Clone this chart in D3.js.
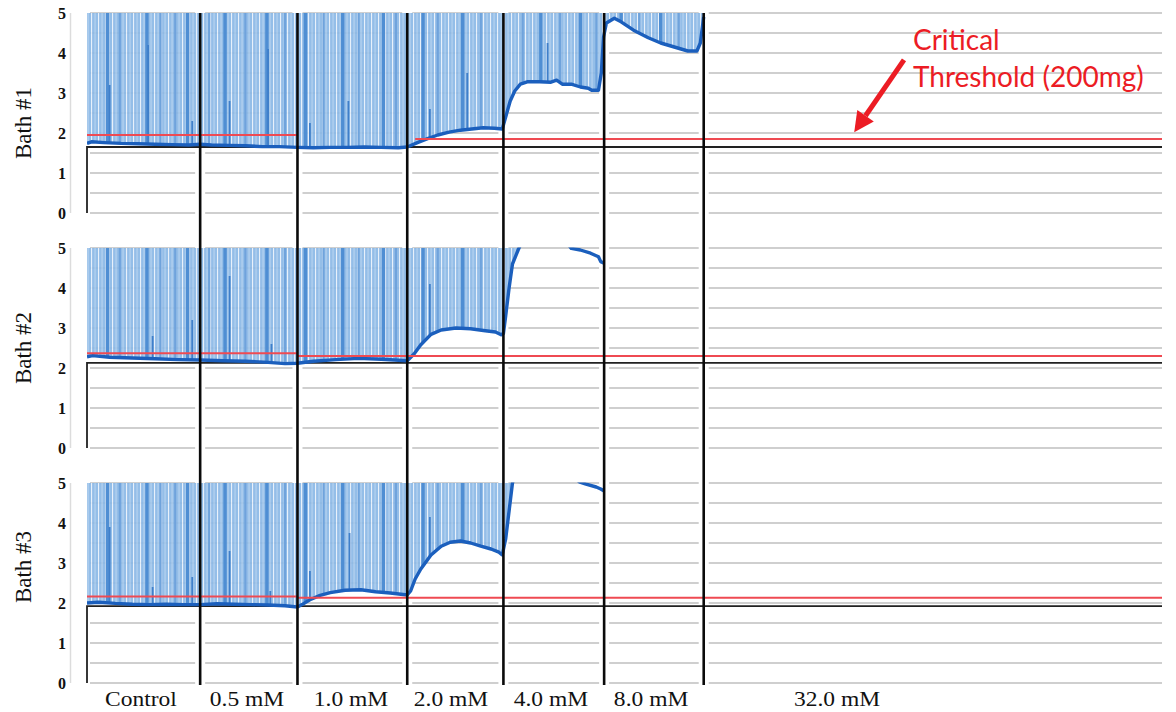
<!DOCTYPE html>
<html>
<head>
<meta charset="utf-8">
<script src="https://cdn.jsdelivr.net/npm/d3@7"></script>
<style>
  html, body { margin: 0; padding: 0; background: #fff; }
  svg { display: block; }
</style>
</head>
<body>
<svg id="chart" width="1176" height="712"></svg>
<script>
// Time axis in minutes; dose steps start at these times
const sectionStarts = [0, 10.0, 18.6, 28.3, 36.8, 45.7, 54.5, 95];
const doseLabels = ["Control", "0.5 mM", "1.0 mM", "2.0 mM", "4.0 mM", "8.0 mM", "32.0 mM"];
const doseLabelTimes = [4.77, 14.14, 23.33, 32.17, 41.0, 49.85, 66.28];

const bathNames = ["Bath #1", "Bath #2", "Bath #3"];
const bathNameValues = [2.25, 2.5, 2.9];
const yTicks = [0, 1, 2, 3, 4, 5];
const gridValues = [0, 0.5, 1, 1.5, 2, 2.5, 3, 3.5, 4, 4.5, 5];

// Resting tension trace [time, tension]
const bath1Trace = [[0.0,1.74],[0.4,1.78],[1.5,1.76],[3,1.74],[4.5,1.73],[6,1.72],[7.5,1.71],[9,1.70],[10,1.72],[11,1.70],[12.5,1.69],[14,1.68],[15.5,1.66],[17,1.66],[18.6,1.64],[20,1.63],[21.5,1.64],[23,1.64],[24.5,1.65],[26,1.64],[27.5,1.63],[28.3,1.65],[29.2,1.76],[30.1,1.86],[31.0,1.95],[32.0,2.02],[33.0,2.07],[34.0,2.10],[35.0,2.13],[36.0,2.12],[36.7,2.10],[37.0,2.40],[37.4,2.80],[37.8,3.05],[38.3,3.22],[38.9,3.28],[40.0,3.28],[41.0,3.27],[41.5,3.32],[42.0,3.22],[42.8,3.22],[43.6,3.15],[44.3,3.12],[44.6,3.07],[45.2,3.07],[45.45,3.5],[45.65,4.4],[45.9,4.75],[46.6,4.87],[47.2,4.78],[48.3,4.57],[49.6,4.38],[50.7,4.25],[51.9,4.15],[53.1,4.05],[53.9,4.05],[54.2,4.25],[54.5,4.9]];
const bath2Trace = [[0,2.28],[0.5,2.31],[2,2.27],[4,2.25],[6,2.23],[8,2.21],[10,2.20],[12,2.18],[14,2.17],[16,2.14],[17.5,2.11],[18.6,2.12],[20,2.17],[22,2.21],[24,2.24],[26,2.22],[28.3,2.18],[28.9,2.35],[29.5,2.58],[30.4,2.84],[31.3,2.95],[32.6,3.00],[33.9,2.98],[35.2,2.93],[36.1,2.90],[36.6,2.83],[36.8,2.86],[37.0,3.3],[37.3,4.0],[37.6,4.6],[38.1,4.95],[38.5,5.2],[39.5,5.5],[41,5.5],[42.2,5.2],[42.8,4.99],[43.6,4.95],[44.5,4.87],[45.2,4.78],[45.4,4.66],[45.7,4.62]];
const bath3Trace = [[0,2.0],[1,2.02],[2.5,1.99],[4,1.97],[5.5,1.96],[7,1.97],[8.5,1.96],[10,1.96],[11.5,1.98],[13,1.97],[14.5,1.96],[16,1.95],[17.5,1.93],[18.6,1.90],[19.0,1.96],[19.7,2.08],[20.6,2.19],[21.5,2.26],[22.8,2.32],[24.2,2.33],[25.5,2.28],[26.8,2.25],[28.3,2.20],[28.6,2.3],[29.0,2.6],[29.5,2.85],[30.4,3.2],[31.3,3.42],[32.1,3.52],[33.0,3.55],[33.9,3.50],[34.8,3.42],[35.7,3.35],[36.4,3.27],[36.7,3.20],[37.0,3.6],[37.3,4.3],[37.6,5.0],[37.9,5.3],[39,5.5],[42,5.5],[43.2,5.1],[43.5,5.03],[44.1,4.97],[45.0,4.90],[45.4,4.85],[45.7,4.80]];

// Twitch responses run off scale (> 5) until these times
const twitchEnds = [54.5, 38.3, 37.7];

// Stronger twitch bands, intermediate bands and sub-maximal twitches [time, peak]
const darkTwitchTimes = [1.8, 5.3, 8.9, 12.2, 15.9, 19.3, 22.6, 26.2, 29.7, 33.2, 40.1, 43.6, 47.2, 50.7];
const midTwitchTimes = [2.9, 6.5, 7.8, 10.8, 14.0, 17.5, 20.9, 24.0, 27.3, 31.0, 34.8, 38.5, 41.8, 45.0, 48.8, 52.3];
const bath1Partial = [[2.0,3.2],[5.4,4.2],[9.3,2.3],[12.6,2.8],[16.0,4.1],[19.7,2.25],[23.1,2.8],[30.3,2.6],[33.6,3.5],[40.7,4.25]];
const bath2Partial = [[5.8,2.8],[9.3,3.2],[12.6,4.3],[16.3,2.6],[30.3,4.1]];
const bath3Partial = [[2.0,3.9],[5.8,2.4],[9.3,2.65],[12.6,3.3],[16.2,2.3],[19.7,2.8],[23.2,3.75],[30.3,4.15]];

// Critical threshold (200 mg) segments [from, to, value] and zero baselines
const bath1Threshold = [[0, 18.6, 1.95], [29.0, 95, 1.85]];
const bath2Threshold = [[0, 18.6, 2.37], [18.6, 95, 2.30]];
const bath3Threshold = [[0, 18.6, 2.16], [18.6, 95, 2.13]];
const baselines = [1.65, 2.13, 1.92];

// Annotation arrow: tail and tip in Bath #1 units
const arrowTail = [72.2, 3.83];
const arrowTip = [67.8, 2.02];
const annotationLines = ["Critical", "Threshold (200mg)"];
const annotationAnchor = [73.0, 4.08, 3.15];

const traces = [bath1Trace, bath2Trace, bath3Trace];
const partials = [bath1Partial, bath2Partial, bath3Partial];
const thresholds = [bath1Threshold, bath2Threshold, bath3Threshold];

const panelTops = [13, 248, 483];
const panelH = 200;

const svg = d3.select("#chart");
svg.append("rect").attr("width", 1176).attr("height", 712).attr("fill", "#fff");

const x = d3.scaleLinear().domain([0, 95]).range([87, 1162]);

const defs = svg.append("defs");
const pat = defs.append("pattern").attr("id", "twitchFill")
  .attr("patternUnits", "userSpaceOnUse").attr("width", 7).attr("height", 10);
pat.append("rect").attr("width", 7).attr("height", 10).attr("fill", "#8bb8e6");
pat.append("rect").attr("x", 0).attr("width", 1.1).attr("height", 10).attr("fill", "#e6f0fb");
pat.append("rect").attr("x", 3.6).attr("width", 0.9).attr("height", 10).attr("fill", "#bcd6f1");

function valueAt(trace, t) {
  for (let i = 1; i < trace.length; i++) {
    if (trace[i][0] >= t) {
      const [t0, v0] = trace[i - 1], [t1, v1] = trace[i];
      return v0 + (v1 - v0) * (t - t0) / (t1 - t0);
    }
  }
  return trace[trace.length - 1][1];
}

traces.forEach((trace, p) => {
  const top = panelTops[p];
  const y = d3.scaleLinear().domain([0, 5]).range([top + panelH, top]);
  const g = svg.append("g");

  defs.append("clipPath").attr("id", "clip" + p)
    .append("rect").attr("x", x(0)).attr("y", y(5) - 0.5)
    .attr("width", x(95) - x(0)).attr("height", panelH + 1);

  // horizontal gridlines, broken around each dose marker
  for (let s = 0; s < sectionStarts.length - 1; s++) {
    const a = x(sectionStarts[s]) + (s === 0 ? 3 : 5);
    const b = x(sectionStarts[s + 1]) - (s === sectionStarts.length - 2 ? 0 : 5);
    g.selectAll(null).data(gridValues).join("line")
      .attr("x1", a).attr("x2", b)
      .attr("y1", d => y(d)).attr("y2", d => y(d))
      .attr("stroke", "#cfcfcf").attr("stroke-width", 2);
  }

  // y axis
  g.append("line").attr("x1", 70.5).attr("x2", 70.5).attr("y1", y(0)).attr("y2", y(5))
    .attr("stroke", "#dcdcdc").attr("stroke-width", 1.5);
  g.selectAll(null).data(yTicks).join("text")
    .attr("x", 66).attr("y", d => y(d)).attr("dy", "0.35em")
    .attr("text-anchor", "end")
    .attr("font-family", "'Liberation Serif', 'Times New Roman', serif")
    .attr("font-weight", "bold").attr("font-size", 16).attr("fill", "#111")
    .text(d => d);

  // bath label
  g.append("text")
    .attr("transform", `translate(31,${y(bathNameValues[p])}) rotate(-90)`)
    .attr("text-anchor", "middle")
    .attr("font-family", "'Liberation Serif', 'Times New Roman', serif")
    .attr("font-size", 23).attr("fill", "#111")
    .text(bathNames[p]);

  // zero baseline
  g.append("path")
    .attr("d", d3.line()([[x(0), y(0)], [x(0), y(baselines[p])], [x(95), y(baselines[p])]]))
    .attr("fill", "none").attr("stroke", "#222").attr("stroke-width", 1.8);

  const clipped = g.append("g").attr("clip-path", `url(#clip${p})`);

  // twitch envelope between resting tension and the top of scale
  const fillPts = trace.filter(d => d[0] <= twitchEnds[p]);
  clipped.append("path")
    .datum(fillPts)
    .attr("d", d3.area().x(d => x(d[0])).y0(y(5)).y1(d => y(Math.min(d[1], 5))))
    .attr("fill", "url(#twitchFill)").attr("opacity", 0.92);

  const inEnvelope = t => t <= twitchEnds[p] && valueAt(trace, t) < 5;
  clipped.selectAll(null)
    .data(midTwitchTimes.filter(inEnvelope))
    .join("line")
    .attr("x1", d => x(d)).attr("x2", d => x(d))
    .attr("y1", y(5)).attr("y2", d => y(valueAt(trace, d)))
    .attr("stroke", "#6fa3dc").attr("stroke-width", 2.2);
  clipped.selectAll(null)
    .data(darkTwitchTimes.filter(inEnvelope))
    .join("line")
    .attr("x1", d => x(d)).attr("x2", d => x(d))
    .attr("y1", y(5)).attr("y2", d => y(valueAt(trace, d)))
    .attr("stroke", "#4f8ed3").attr("stroke-width", 3.4);

  clipped.selectAll(null).data(partials[p]).join("line")
    .attr("x1", d => x(d[0])).attr("x2", d => x(d[0]))
    .attr("y1", d => y(d[1])).attr("y2", d => y(valueAt(trace, d[0])))
    .attr("stroke", "#3f7fca").attr("stroke-width", 1.8);

  // resting tension
  clipped.append("path").datum(trace)
    .attr("d", d3.line().x(d => x(d[0])).y(d => y(d[1])))
    .attr("fill", "none").attr("stroke", "#1b5fbd").attr("stroke-width", 3.4)
    .attr("stroke-linejoin", "round");

  // critical threshold
  g.selectAll(null).data(thresholds[p]).join("line")
    .attr("x1", d => x(d[0])).attr("x2", d => x(d[1]))
    .attr("y1", d => y(d[2])).attr("y2", d => y(d[2]))
    .attr("stroke", "#ef4a52").attr("stroke-width", 2);
});

// dose change markers through all baths
const yTopAll = panelTops[0];
const yBottomAll = panelTops[2] + panelH + 2;
svg.append("g").selectAll("line").data(sectionStarts.slice(1, -1)).join("line")
  .attr("x1", d => x(d)).attr("x2", d => x(d))
  .attr("y1", yTopAll).attr("y2", yBottomAll)
  .attr("stroke", "#0a0a0a").attr("stroke-width", 2.6);

// dose labels
svg.append("g").selectAll("text").data(doseLabels).join("text")
  .attr("transform", (d, i) => `translate(${x(doseLabelTimes[i])},706) scale(1.12,1)`)
  .attr("text-anchor", "middle")
  .attr("font-family", "'Liberation Serif', 'Times New Roman', serif")
  .attr("font-size", 21).attr("fill", "#111")
  .text(d => d);

// annotation
const y1 = d3.scaleLinear().domain([0, 5]).range([panelTops[0] + panelH, panelTops[0]]);
const red = "#ec1c24";
const tail = [x(arrowTail[0]), y1(arrowTail[1])];
const tip = [x(arrowTip[0]), y1(arrowTip[1])];
const ang = Math.atan2(tip[1] - tail[1], tip[0] - tail[0]);
const headLen = 20, headHalf = 10;
const base = [tip[0] - headLen * Math.cos(ang), tip[1] - headLen * Math.sin(ang)];
svg.append("line")
  .attr("x1", tail[0]).attr("y1", tail[1]).attr("x2", base[0]).attr("y2", base[1])
  .attr("stroke", red).attr("stroke-width", 5);
svg.append("path")
  .attr("d", d3.line()([
    tip,
    [base[0] + headHalf * Math.sin(ang), base[1] - headHalf * Math.cos(ang)],
    [base[0] - headHalf * Math.sin(ang), base[1] + headHalf * Math.cos(ang)]
  ]) + "Z")
  .attr("fill", red);

svg.append("g").selectAll("text").data(annotationLines).join("text")
  .attr("x", x(annotationAnchor[0]))
  .attr("y", (d, i) => y1(annotationAnchor[i + 1]))
  .attr("font-family", "Lato, 'Open Sans', sans-serif")
  .attr("font-size", 28).attr("fill", red)
  .text(d => d);
</script>
</body>
</html>
